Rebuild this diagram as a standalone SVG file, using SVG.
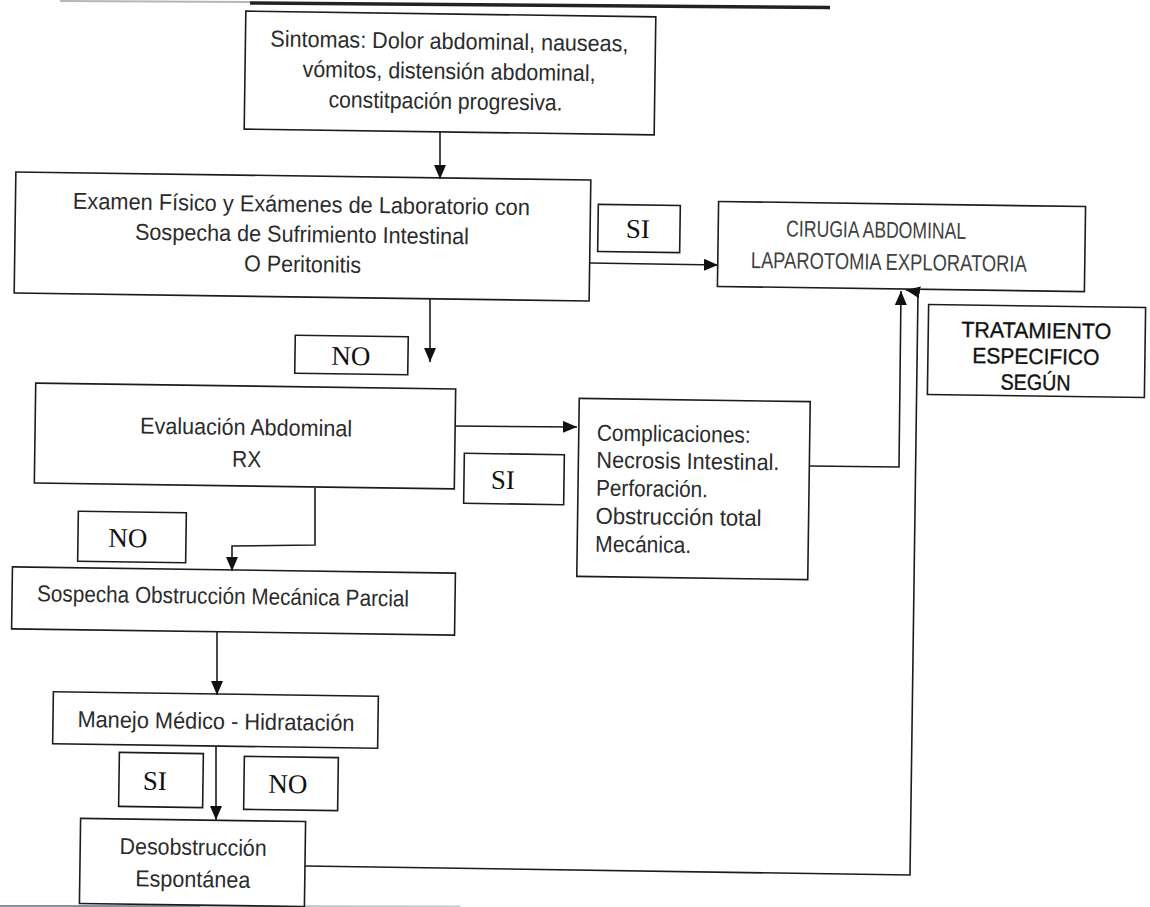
<svg xmlns="http://www.w3.org/2000/svg" width="1150" height="907" viewBox="0 0 1150 907">
  <style>
    .box { fill: #ffffff; stroke: #1c1c1c; stroke-width: 1.6; }
    .t { font-family: "Liberation Sans", Arial, sans-serif; font-size: 23px; fill: #2b2b2b; text-anchor: middle; }
    .tl { font-family: "Liberation Sans", Arial, sans-serif; font-size: 23px; fill: #2b2b2b; text-anchor: start; }
    .cap { font-family: "Liberation Sans", Arial, sans-serif; font-size: 23px; fill: #404040; text-anchor: middle; }
    .bold { font-family: "Liberation Sans", Arial, sans-serif; font-size: 22px; fill: #111111; stroke: #111111; stroke-width: 0.35; text-anchor: middle; }
    .lbl { font-family: "Liberation Serif", "Times New Roman", serif; font-size: 27px; fill: #111111; text-anchor: middle; }
    .conn { fill: none; stroke: #1c1c1c; stroke-width: 1.6; }
    .scan { fill: none; stroke-width: 2; }
  </style>
  <defs>
    <marker id="ah" viewBox="0 0 14 12" refX="14" refY="6" markerWidth="14" markerHeight="12" markerUnits="userSpaceOnUse" orient="auto">
      <path d="M0,0 L14,6 L0,12 z" fill="#111111"/>
    </marker>
  </defs>

  <rect width="1150" height="907" fill="#ffffff"/>

  <!-- title underline at the top edge -->
  <line class="scan" x1="60" y1="1" x2="250" y2="2" stroke="#b5b5b5"/>
  <line class="scan" x1="250" y1="3" x2="830" y2="7.5" stroke="#222222" style="stroke-width:3.5"/>
  <!-- page edge at the bottom -->
  <line class="scan" x1="0" y1="906" x2="200" y2="906" stroke="#8a909a"/>
  <line class="scan" x1="200" y1="906" x2="460" y2="906.5" stroke="#c4c8cf"/>

  <g id="sintomas" transform="rotate(0.8 450 73)">
    <rect class="box" x="245" y="14" width="410" height="118"/>
    <text class="t" x="449" y="49" textLength="358" lengthAdjust="spacingAndGlyphs">Sintomas: Dolor abdominal, nauseas,</text>
    <text class="t" x="449" y="79" textLength="293" lengthAdjust="spacingAndGlyphs">vómitos, distensión abdominal,</text>
    <text class="t" x="446" y="109" textLength="234" lengthAdjust="spacingAndGlyphs">constitpación progresiva.</text>
  </g>

  <g id="examen" transform="rotate(0.8 302 236)">
    <rect class="box" x="15" y="176" width="575" height="121"/>
    <text class="t" x="301" y="212" textLength="457" lengthAdjust="spacingAndGlyphs">Examen Físico y Exámenes de Laboratorio con</text>
    <text class="t" x="302" y="242" textLength="334" lengthAdjust="spacingAndGlyphs">Sospecha de Sufrimiento Intestinal</text>
    <text class="t" x="303" y="272" textLength="117" lengthAdjust="spacingAndGlyphs">O Peritonitis</text>
  </g>

  <g id="si-examen" transform="rotate(0.8 639 228)">
    <rect class="box" x="598" y="205" width="82" height="47"/>
    <text class="lbl" x="638" y="238">SI</text>
  </g>

  <g id="cirugia" transform="rotate(0.8 901 246)">
    <rect class="box" x="718" y="204" width="367" height="85"/>
    <text class="cap" x="876" y="238" textLength="180" lengthAdjust="spacingAndGlyphs">CIRUGIA ABDOMINAL</text>
    <text class="cap" x="889" y="270" textLength="276" lengthAdjust="spacingAndGlyphs">LAPAROTOMIA EXPLORATORIA</text>
  </g>

  <g id="tratamiento" transform="rotate(0.8 1036 351)">
    <rect class="box" x="928" y="306" width="217" height="90"/>
    <text class="bold" x="1036" y="338" textLength="150" lengthAdjust="spacingAndGlyphs">TRATAMIENTO</text>
    <text class="bold" x="1036" y="364" textLength="127" lengthAdjust="spacingAndGlyphs">ESPECIFICO</text>
    <text class="bold" x="1036" y="390" textLength="70" lengthAdjust="spacingAndGlyphs">SEGÚN</text>
  </g>

  <g id="no-examen" transform="rotate(0.8 351 355)">
    <rect class="box" x="295" y="336" width="113" height="38"/>
    <text class="lbl" x="351" y="365">NO</text>
  </g>

  <g id="evaluacion" transform="rotate(0.8 245 436)">
    <rect class="box" x="35" y="386" width="420" height="100"/>
    <text class="t" x="246" y="435" textLength="212" lengthAdjust="spacingAndGlyphs">Evaluación Abdominal</text>
    <text class="t" x="247" y="467" textLength="29" lengthAdjust="spacingAndGlyphs">RX</text>
  </g>

  <g id="si-evaluacion" transform="rotate(0.8 514 479)">
    <rect class="box" x="464" y="454" width="100" height="50"/>
    <text class="lbl" x="503" y="489">SI</text>
  </g>

  <g id="complicaciones" transform="rotate(0.8 693 489)">
    <rect class="box" x="578" y="400" width="231" height="178"/>
    <text class="tl" x="596" y="442" textLength="154" lengthAdjust="spacingAndGlyphs">Complicaciones:</text>
    <text class="tl" x="596" y="469" textLength="183" lengthAdjust="spacingAndGlyphs">Necrosis Intestinal.</text>
    <text class="tl" x="596" y="497" textLength="112" lengthAdjust="spacingAndGlyphs">Perforación.</text>
    <text class="tl" x="596" y="525" textLength="166" lengthAdjust="spacingAndGlyphs">Obstrucción total</text>
    <text class="tl" x="596" y="553" textLength="96" lengthAdjust="spacingAndGlyphs">Mecánica.</text>
  </g>

  <g id="no-evaluacion" transform="rotate(0.8 132 537)">
    <rect class="box" x="78" y="512" width="108" height="50"/>
    <text class="lbl" x="128" y="547">NO</text>
  </g>

  <g id="sospecha" transform="rotate(0.8 233 601)">
    <rect class="box" x="12" y="570" width="443" height="62"/>
    <text class="t" x="223" y="604" textLength="372" lengthAdjust="spacingAndGlyphs">Sospecha Obstrucción Mecánica Parcial</text>
  </g>

  <g id="manejo" transform="rotate(0.8 215 720)">
    <rect class="box" x="53" y="694" width="325" height="52"/>
    <text class="t" x="216" y="729" textLength="277" lengthAdjust="spacingAndGlyphs">Manejo Médico - Hidratación</text>
  </g>

  <g id="si-manejo" transform="rotate(0.8 161 780)">
    <rect class="box" x="119" y="753" width="84" height="54"/>
    <text class="lbl" x="155" y="790">SI</text>
  </g>

  <g id="no-manejo" transform="rotate(0.8 291 783)">
    <rect class="box" x="244" y="757" width="94" height="53"/>
    <text class="lbl" x="288" y="793">NO</text>
  </g>

  <g id="desobstruccion" transform="rotate(0.8 193 863)">
    <rect class="box" x="80" y="820" width="225" height="85"/>
    <text class="t" x="193" y="855" textLength="147" lengthAdjust="spacingAndGlyphs">Desobstrucción</text>
    <text class="t" x="193" y="887" textLength="115" lengthAdjust="spacingAndGlyphs">Espontánea</text>
  </g>

  <g id="connectors">
    <path class="conn" d="M440,132 L440,179" marker-end="url(#ah)"/>
    <path class="conn" d="M590,263 L718,265" marker-end="url(#ah)"/>
    <path class="conn" d="M430,299 L430,362" marker-end="url(#ah)"/>
    <path class="conn" d="M455,426 L577,427" marker-end="url(#ah)"/>
    <path class="conn" d="M809,466 L899,467 L901,291" marker-end="url(#ah)"/>
    <path class="conn" d="M315,488 L315,545 L232,546 L232,571" marker-end="url(#ah)"/>
    <path class="conn" d="M217,632 L217,695" marker-end="url(#ah)"/>
    <path class="conn" d="M216,746 L216,820" marker-end="url(#ah)"/>
    <path class="conn" d="M305,866 L910,875 L918,292 L906,290" marker-end="url(#ah)"/>
  </g>
</svg>
